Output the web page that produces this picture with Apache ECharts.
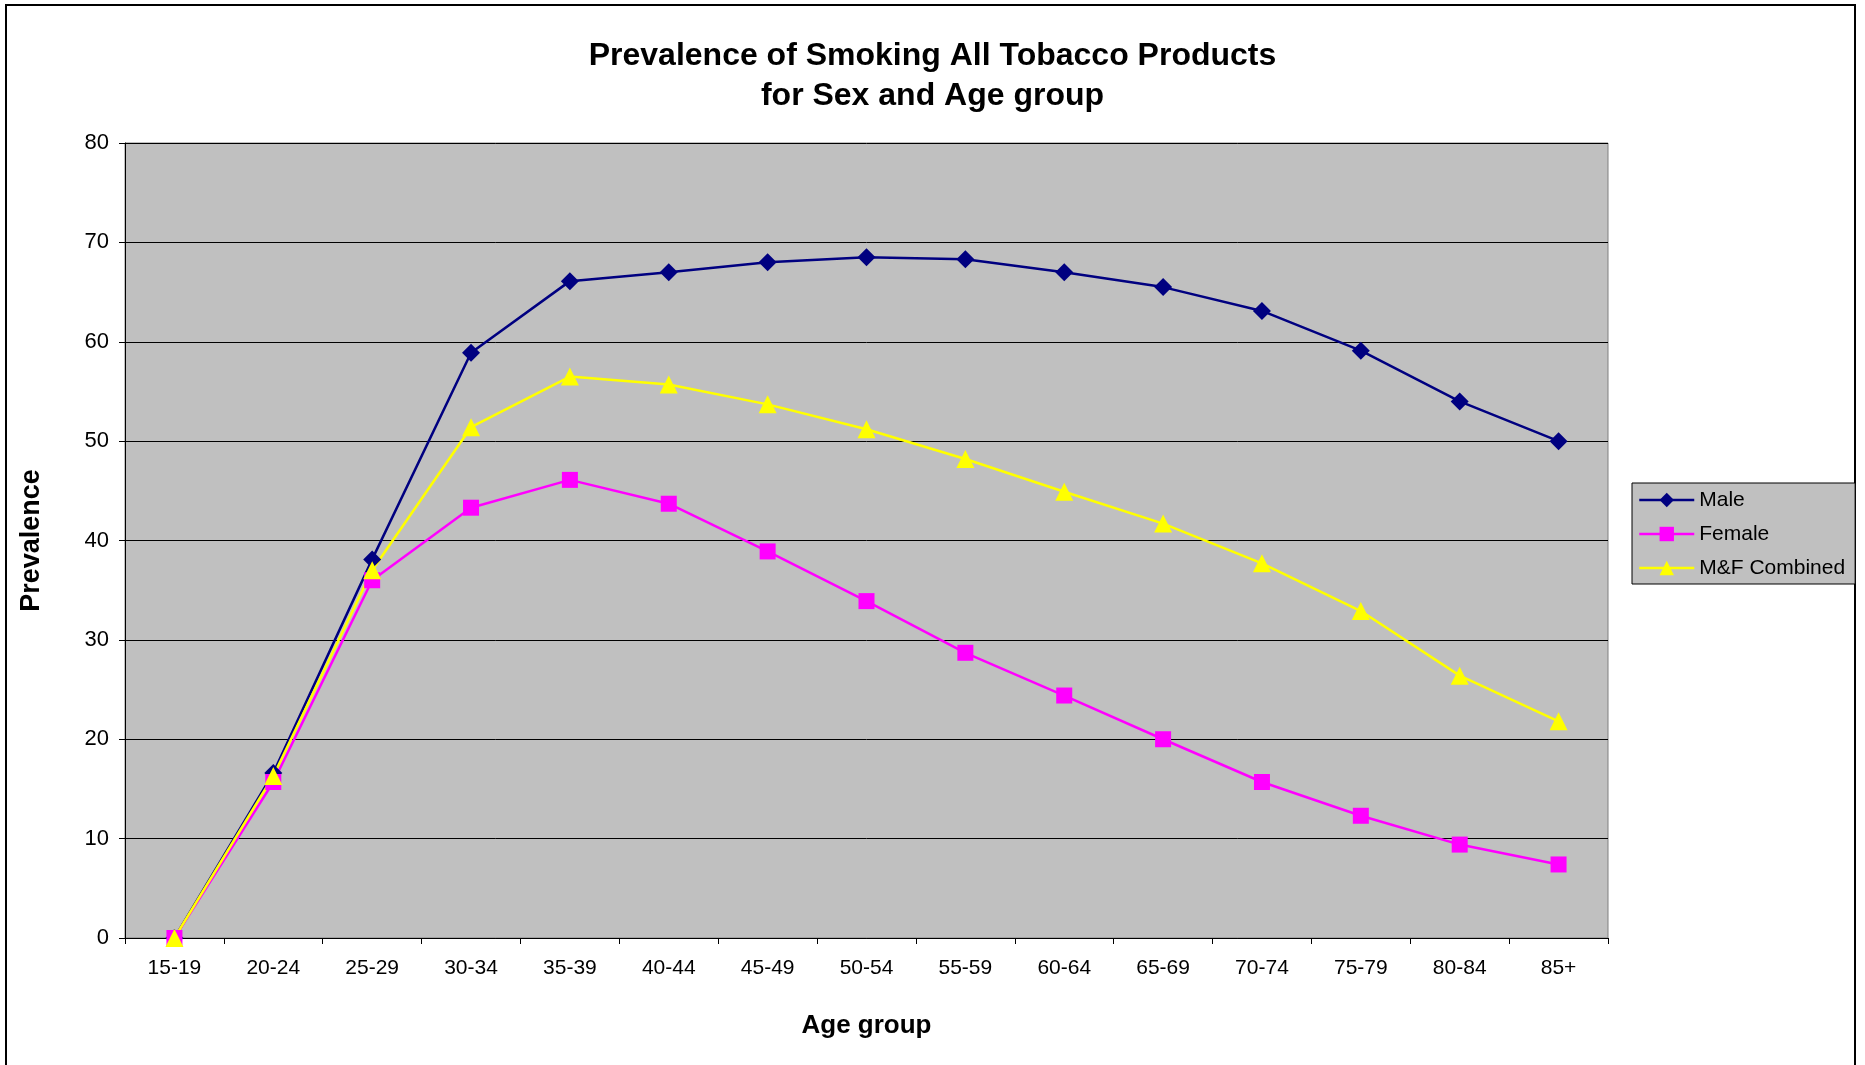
<!DOCTYPE html>
<html>
<head>
<meta charset="utf-8">
<title>Prevalence of Smoking</title>
<script src="https://cdn.jsdelivr.net/npm/echarts@6/dist/echarts.min.js"></script>
<style>
  html, body { margin: 0; padding: 0; background: #fff; }
  #chart { width: 1865px; height: 1065px; }
</style>
</head>
<body>
<div id="chart"></div>
<script>
// age groups on the x axis
var ageGroups = ['15-19', '20-24', '25-29', '30-34', '35-39', '40-44', '45-49', '50-54',
  '55-59', '60-64', '65-69', '70-74', '75-79', '80-84', '85+'];

// prevalence (%)
var male = [0, 16.6, 38.1, 58.9, 66.1, 67.0, 68.0, 68.5, 68.3, 67.0, 65.5, 63.1, 59.1, 54.0, 50.0];
var female = [0, 15.7, 36.0, 43.3, 46.1, 43.7, 38.9, 33.9, 28.7, 24.4, 20.0, 15.7, 12.3, 9.4, 7.4];
var combined = [0, 16.3, 37.0, 51.4, 56.5, 55.7, 53.7, 51.2, 48.2, 44.9, 41.7, 37.7, 32.9, 26.4, 21.8];

var chart = echarts.init(document.getElementById('chart'));

var font = '"Liberation Sans", Arial, sans-serif';

var option = {
  animation: false,
  backgroundColor: '#fff',
  textStyle: { fontFamily: font },
  graphic: [{
    type: 'rect',
    shape: { x: 6, y: 5, width: 1849, height: 1100 },
    style: { fill: 'none', stroke: '#000', lineWidth: 2 },
    silent: true
  }],
  title: {
    text: 'Prevalence of Smoking All Tobacco Products\nfor Sex and Age group',
    left: 'center',
    top: 31,
    textStyle: {
      fontFamily: font,
      fontSize: 32,
      fontWeight: 'bold',
      color: '#000',
      lineHeight: 40
    }
  },
  legend: {
    orient: 'vertical',
    left: 1632,
    top: 483,
    padding: [6, 10, 5, 6],
    backgroundColor: '#c0c0c0',
    borderColor: '#000',
    borderWidth: 1,
    itemWidth: 55,
    itemHeight: 18,
    itemGap: 12,
    itemTextGap: 5,
    lineStyle: { width: 2.5 },
    textStyle: { fontFamily: font, fontSize: 21, color: '#000', lineHeight: 22 },
    data: ['Male', 'Female', 'M&F Combined']
  },
  grid: {
    left: 125,
    right: 257,
    top: 143,
    bottom: 127,
    show: true,
    backgroundColor: '#c0c0c0',
    borderColor: '#808080',
    borderWidth: 1
  },
  xAxis: {
    type: 'category',
    data: ageGroups,
    boundaryGap: true,
    name: 'Age group',
    nameLocation: 'middle',
    nameGap: 75,
    nameTextStyle: { fontFamily: font, fontSize: 26, fontWeight: 'bold', color: '#000' },
    axisLine: { lineStyle: { color: '#000', width: 1 } },
    axisTick: { show: true, inside: false, length: 6, alignWithLabel: false, lineStyle: { color: '#000' } },
    axisLabel: { fontFamily: font, fontSize: 21, color: '#000', margin: 20, interval: 0 },
    splitLine: { show: false }
  },
  yAxis: {
    type: 'value',
    min: 0,
    max: 80,
    interval: 10,
    name: 'Prevalence',
    nameLocation: 'middle',
    nameGap: 80,
    nameRotate: 90,
    nameTextStyle: { fontFamily: font, fontSize: 27, fontWeight: 'bold', color: '#000' },
    axisLine: { show: true, lineStyle: { color: '#000', width: 1 } },
    axisTick: { show: true, inside: false, length: 6, lineStyle: { color: '#000' } },
    axisLabel: { fontFamily: font, fontSize: 22, color: '#000', margin: 16 },
    splitLine: { show: true, lineStyle: { color: '#000', width: 1 } }
  },
  series: [
    {
      name: 'Male',
      type: 'line',
      data: male,
      symbol: 'diamond',
      symbolSize: 18,
      lineStyle: { color: '#000080', width: 2.5 },
      itemStyle: { color: '#000080' }
    },
    {
      name: 'Female',
      type: 'line',
      data: female,
      symbol: 'rect',
      symbolSize: 16,
      lineStyle: { color: '#ff00ff', width: 2.5 },
      itemStyle: { color: '#ff00ff' }
    },
    {
      name: 'M&F Combined',
      type: 'line',
      data: combined,
      symbol: 'triangle',
      symbolSize: 18,
      lineStyle: { color: '#ffff00', width: 2.5 },
      itemStyle: { color: '#ffff00' }
    }
  ]
};

chart.setOption(option);
</script>
</body>
</html>
